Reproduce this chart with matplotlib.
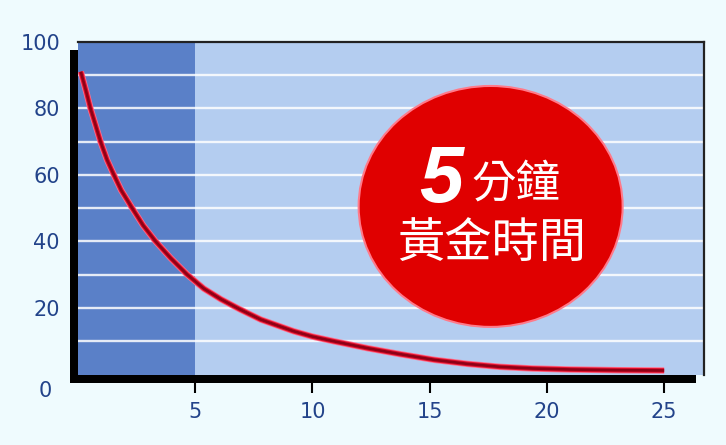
import numpy as np
import matplotlib.pyplot as plt
from matplotlib.patches import Rectangle, Ellipse
import matplotlib.transforms as mtransforms

# datos de la curva
minutos = [0.12, 0.35, 0.53, 0.75, 0.96, 1.24, 1.53, 1.84, 2.31, 2.78, 3.31,
           3.95, 4.66, 5.37, 6.1, 6.9, 7.8, 9.2, 10.0, 10.9, 12.35, 13.75,
           15.2, 16.6, 18.0, 19.4, 21.0, 23.0, 25.0]
valores = [91, 85, 80, 74.9, 70, 64.5, 60, 55.4, 50, 44.8, 40,
           35.0, 30, 25.8, 22.6, 19.6, 16.5, 13.0, 11.4, 10.0, 7.9, 6.1,
           4.4, 3.2, 2.3, 1.8, 1.5, 1.3, 1.2]
yticks = [20, 40, 60, 80, 100]
xticks = [5, 10, 15, 20, 25]
zona_oscura = 5

fondo = "#effbfe"
azul_oscuro = "#5a80c8"
azul_claro = "#b4cdf0"
texto_azul = "#22438a"

fig = plt.figure(figsize=(7.26, 4.45), dpi=100, facecolor=fondo)
ax = fig.add_axes([78/726, 70.5/445, 626/726, 332.8/445])
ax.set_facecolor(azul_claro)
ax.set_xlim(0, 26.7)
ax.set_ylim(0, 100)

# sombra negra detrás del área del gráfico
desplaza = mtransforms.ScaledTranslation(-8.5/100, -8.5/100, fig.dpi_scale_trans)
sombra = Rectangle((0, 0), 1, 1, transform=ax.transAxes + desplaza,
                   facecolor="black", edgecolor="none", zorder=-1, clip_on=False)
sombra.set_figure(fig)
fig.patches.append(sombra)

# zona de los primeros 5 minutos
ax.axvspan(0, zona_oscura, color=azul_oscuro, zorder=0.5, lw=0)

# líneas horizontales blancas
for y in range(10, 100, 10):
    ax.axhline(y, color="white", lw=1.7, zorder=1, alpha=0.85)

# círculo rojo
circ = Ellipse((17.6, 50.5), 11.26, 72.4, facecolor="#e00000",
               edgecolor="#ff7a8a", lw=1.5, zorder=2)
ax.add_patch(circ)

# curva
for color, grosor, z in [("#ff6f8c", 4.6, 3), ("#e0102c", 3.4, 3.5), ("#8e0016", 1.9, 4)]:
    ax.plot(minutos, valores, color=color, lw=grosor, zorder=z,
            solid_capstyle="butt", solid_joinstyle="round")

# textos dentro del círculo
ax.text(16.45, 51.8, "5", color="white", fontsize=57, fontweight="bold", style="italic",
        family="Liberation Sans", ha="right", va="baseline", zorder=5)
ax.text(16.8, 57.4, "分鐘", color="white", fontsize=32,
        family=["Noto Sans CJK TC", "DejaVu Sans"], ha="left", va="center", zorder=5)
ax.text(17.64, 39.2, "黃金時間", color="white", fontsize=34,
        family=["Noto Sans CJK TC", "DejaVu Sans"], ha="center", va="center", zorder=5)

# ejes
for lado in ["left", "bottom"]:
    ax.spines[lado].set_visible(False)
for lado in ["top", "right"]:
    ax.spines[lado].set_color("#222222")
    ax.spines[lado].set_linewidth(1.6)

ax.set_yticks(yticks)
ax.set_yticklabels([str(v) for v in yticks])
ax.tick_params(axis="y", length=0, pad=13, labelsize=15, labelcolor=texto_azul)
ax.text(45/726, (445-391)/445, "0", transform=fig.transFigure, ha="center", va="center",
        fontsize=15, color=texto_azul)

ax.set_xticks(xticks)
ax.set_xticklabels([str(v) for v in xticks])
ax.tick_params(axis="x", length=13, width=1.5, color="black", pad=7,
               labelsize=15, labelcolor=texto_azul)

fig.savefig("out.png", dpi=100, facecolor=fondo)
